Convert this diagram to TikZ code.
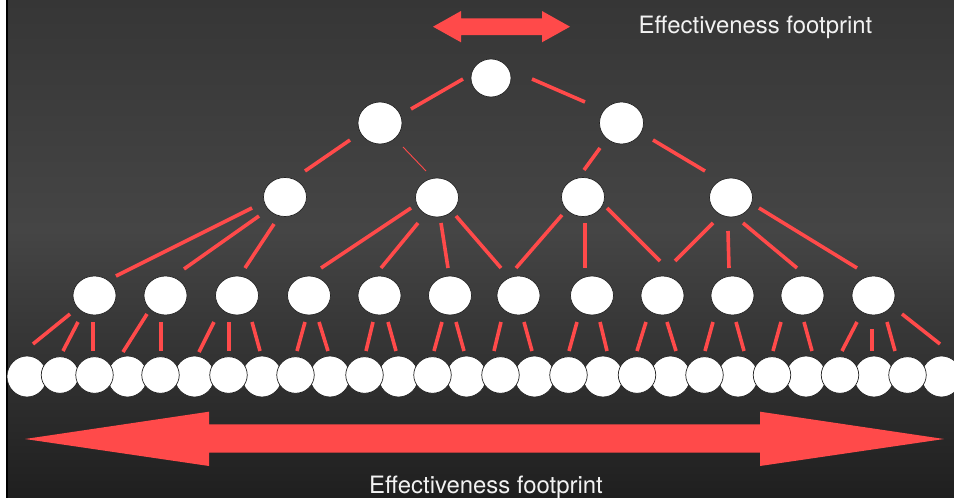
\documentclass[tikz,border=0pt]{standalone}
\usepackage{fontspec}
\setmainfont{TeX Gyre Heros}
\usetikzlibrary{shapes.geometric,calc}
\definecolor{redline}{HTML}{FF4A4A}
\definecolor{bgA}{HTML}{363636}
\definecolor{bgB}{HTML}{454545}
\definecolor{bgC}{HTML}{1F1F1F}
\definecolor{nodeline}{HTML}{222222}
\definecolor{txt}{HTML}{F2F2F2}
\newcommand{\conn}[4]{\draw[edge] ($(#1)+(#2)$) -- ($(#3)+(#4)$);}
\begin{document}
\begin{tikzpicture}[x=1pt,y=-1pt,
  nd/.style={ellipse,fill=white,draw=nodeline,line width=0.7pt,inner sep=0pt,outer sep=0pt},
  rootnd/.style={nd,minimum width=40pt,minimum height=38pt},
  onend/.style={nd,minimum width=44pt,minimum height=42pt},
  twond/.style={nd,minimum width=43pt,minimum height=39pt},
  threend/.style={nd,minimum width=43pt,minimum height=39pt},
  frontleaf/.style={nd,minimum width=37.5pt,minimum height=36.5pt},
  backleaf/.style={nd,minimum width=40pt,minimum height=41pt},
  edge/.style={draw=redline,line width=3.6pt},
  thinedge/.style={draw=redline,line width=0.9pt},
  lbl/.style={text=txt,font=\fontsize{23.9}{28}\selectfont,inner sep=0pt},
  arrowfill/.style={fill=redline}]
\useasboundingbox (0,0) rectangle (954,498);
\fill[white] (0,0) rectangle (954,498);
\fill[black] (6,0) rectangle (8,498);
\shade[top color=bgA,bottom color=bgB] (8,0) rectangle (954,230.5);
\shade[top color=bgB,bottom color=bgC] (8,230) rectangle (954,498);

% top arrow
\fill[arrowfill] (433,26.7) -- (461,11) -- (461,18.3) -- (542,18.3) -- (542,11) -- (570,26.7)
  -- (542,42.3) -- (542,35) -- (461,35) -- (461,42.3) -- cycle;
% bottom arrow
\fill[arrowfill] (25,439) -- (209,411.7) -- (209,424.3) -- (760,424.3) -- (760,411.7) -- (944,439)
  -- (760,466) -- (760,452.7) -- (209,452.7) -- (209,466) -- cycle;

\node[lbl,anchor=base] (t1) at (755.5,33) {Effectiveness footprint};
\node[lbl,anchor=base] (t2) at (486,493) {Effectiveness footprint};

% tree nodes
\node[rootnd] (r) at (491,78) {};
\node[onend] (a1) at (380,123) {};
\node[onend] (a2) at (621.5,123) {};
\node[twond] (b1) at (285,197) {};
\node[twond] (b2) at (437,197.5) {};
\node[twond] (b3) at (583,197) {};
\node[twond] (b4) at (731,197.5) {};
\foreach \i/\x in {1/94.5,2/165.5,3/237,4/309,5/379.5,6/450,7/518.5,8/592,9/662.5,10/732.5,11/802.5,12/873.5}
  \node[threend] (c\i) at (\x,295.5) {};
\foreach \i/\x in {0/27,3/127.5,5/194.5,7/262,9/330,11/398.5,13/466.5,15/534.5,17/603,19/670.5,21/738,23/806,25/874,27/941.5}
  \node[backleaf] (d\i) at (\x,376.5) {};
\foreach \i/\x in {1/60,2/94.5,4/160.5,6/228.5,8/295.5,10/364.5,12/432.5,14/500.5,16/568.5,18/637,20/704.5,22/772,24/840,26/907.5}
  \node[frontleaf] (d\i) at (\x,375) {};

% connectors
\conn{r}{-28,1}{a1}{31,-14}
\conn{r}{41,1}{a2}{-36.5,-21}
\conn{a1}{-30,17}{b1}{20,-26}
\draw[thinedge] ($(a1)+(23,24)$) -- ($(b2)+(-11,-26.5)$);
\conn{a2}{-21.5,25}{b3}{1,-27}
\conn{a2}{31.5,17}{b4}{-26,-26.5}
\conn{b1}{-33,11}{c1}{21.5,-19.5}
\conn{b1}{-26,19}{c2}{18.5,-26.5}
\conn{b1}{-11,27}{c3}{8,-27.5}
\conn{b2}{-26,10.5}{c4}{12,-27.5}
\conn{b2}{-19,25.5}{c5}{1.5,-27.5}
\conn{b2}{4,25.5}{c6}{-2,-27.5}
\conn{b2}{19,18.5}{c7}{-17.5,-27.5}
\conn{b3}{-21,18}{c7}{-2.5,-27.5}
\conn{b3}{2,26}{c8}{-7,-27.5}
\conn{b3}{24,11}{c9}{-2.5,-34.5}
\conn{b4}{-18,25.5}{c9}{12.5,-34.5}
\conn{b4}{-3,33.5}{c10}{-3.5,-27.5}
\conn{b4}{12,25.5}{c11}{-5.5,-27.5}
\conn{b4}{28,10.5}{c12}{-16.5,-27.5}
\conn{c1}{-24.5,18.5}{d0}{6,-32.5}
\conn{c1}{-16.5,26.5}{d1}{3,-24}
\conn{c1}{-1.5,26.5}{d2}{-1.5,-24}
\conn{c2}{-18.5,18.5}{d3}{-4.5,-24.5}
\conn{c2}{-4.5,26.5}{d4}{0.5,-24}
\conn{c3}{-23,26.5}{d5}{4.5,-24.5}
\conn{c3}{-8,26.5}{d6}{0.5,-24}
\conn{c3}{15,26.5}{d7}{-2,-25.5}
\conn{c4}{-4,26.5}{d8}{1.5,-24}
\conn{c4}{10,26.5}{d9}{-2,-25.5}
\conn{c5}{-6.5,26.5}{d10}{1.5,-24}
\conn{c5}{8.5,26.5}{d11}{-2.5,-25.5}
\conn{c6}{-8,26.5}{d12}{1.5,-24}
\conn{c6}{6,26.5}{d13}{-2.5,-25.5}
\conn{c7}{-17.5,26.5}{d14}{-6.5,-24}
\conn{c7}{5.5,26.5}{d15}{-2.5,-25.5}
\conn{c8}{-15,26.5}{d16}{0.5,-24}
\conn{c8}{8,26.5}{d17}{4,-25.5}
\conn{c9}{-16.5,26.5}{d18}{0,-24}
\conn{c9}{4.5,26.5}{d19}{5.5,-25.5}
\conn{c10}{-19.5,26.5}{d20}{0.5,-24}
\conn{c10}{3.5,26.5}{d21}{6,-25.5}
\conn{c11}{-21.5,26.5}{d22}{1,-24}
\conn{c11}{1.5,26.5}{d23}{6,-25.5}
\conn{c12}{-16.5,26.5}{d24}{2,-24}
\conn{c12}{-1.5,33.5}{d25}{-2,-25.5}
\conn{c12}{13.5,26.5}{d26}{-12.5,-24}
\conn{c12}{28.5,18.5}{d27}{-1.5,-32.5}
\end{tikzpicture}
\end{document}
